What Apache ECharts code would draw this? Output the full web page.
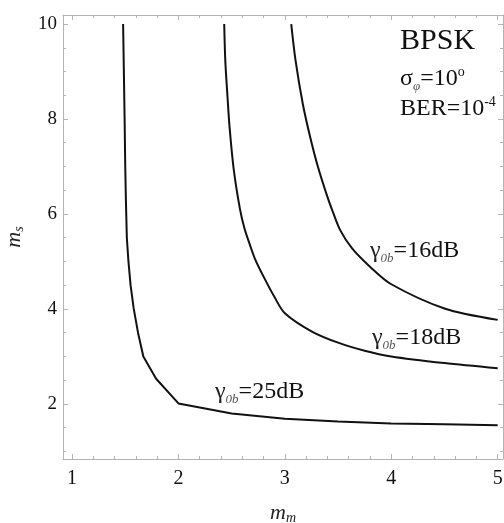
<!DOCTYPE html>
<html>
<head>
<meta charset="utf-8">
<script src="https://cdn.jsdelivr.net/npm/echarts@6/dist/echarts.min.js"></script>
<style>
html,body{margin:0;padding:0;background:#fff;}
#chart{width:504px;height:523px;}
</style>
</head>
<body>
<div id="chart"></div>
<script>
// ---- data (m_m on x, m_s on y) ----
const mm16 = [3.06, 3.10, 3.17, 3.24, 3.31, 3.40, 3.45, 3.52, 3.63, 3.80, 4.00, 4.50, 5.00];
const ms16 = [10.0, 9.24, 8.30, 7.60, 7.00, 6.36, 6.05, 5.66, 5.28, 4.89, 4.52, 4.01, 3.77];

const mm18 = [2.43, 2.44, 2.46, 2.48, 2.52, 2.58, 2.62, 2.67, 2.72, 2.80, 2.90, 3.00, 3.25, 3.50, 3.75, 4.00, 4.50, 5.00];
const ms18 = [10.0, 9.24, 8.5, 7.84, 6.93, 6.08, 5.70, 5.36, 5.05, 4.68, 4.26, 3.91, 3.53, 3.29, 3.12, 3.00, 2.86, 2.75];

const mm25 = [1.48, 1.487, 1.494, 1.50, 1.506, 1.515, 1.53, 1.55, 1.58, 1.62, 1.67, 1.79, 2.00, 2.50, 3.00, 3.50, 4.00, 4.50, 5.00];
const ms25 = [10.0, 9.0, 8.0, 7.0, 6.3, 5.5, 5.0, 4.5, 4.0, 3.5, 3.0, 2.53, 2.01, 1.80, 1.69, 1.63, 1.59, 1.57, 1.55];

const xMajor = [1, 2, 3, 4, 5];
const xMinor = [1.2, 1.4, 1.6, 1.8, 2.2, 2.4, 2.6, 2.8, 3.2, 3.4, 3.6, 3.8, 4.2, 4.4, 4.6, 4.8];
const yMajor = [2, 4, 6, 8, 10];
const yMinor = [1, 1.5, 2.5, 3, 3.5, 4.5, 5, 5.5, 6.5, 7, 7.5, 8.5, 9, 9.5];

const xMin = 0.915, xMax = 5.05, yMin = 0.84, yMax = 10.19;

// ---- chart ----
const serif = '"Liberation Serif", "DejaVu Serif", serif';
const frame = '#b4b4b4';
const pair = (xs, ys) => xs.map((x, i) => [x, ys[i]]);

function xAx(pos, major, labels) {
  return {
    type: 'value', position: pos, min: xMin, max: xMax,
    axisLine: { show: major, lineStyle: { color: frame, width: 1 } },
    axisTick: { show: true, inside: true, length: major ? 5 : 3,
      customValues: major ? xMajor : xMinor, lineStyle: { color: frame } },
    axisLabel: labels ? { show: true, customValues: xMajor, margin: 10,
      fontFamily: serif, fontSize: 20, color: '#111' } : { show: false },
    splitLine: { show: false }
  };
}
function yAx(pos, major, labels) {
  return {
    type: 'value', position: pos, min: yMin, max: yMax,
    axisLine: { show: major, lineStyle: { color: frame, width: 1 } },
    axisTick: { show: true, inside: true, length: major ? 5 : 3,
      customValues: major ? yMajor : yMinor, lineStyle: { color: frame } },
    axisLabel: labels ? { show: true, customValues: yMajor, margin: 6,
      fontFamily: serif, fontSize: 19, color: '#111' } : { show: false },
    splitLine: { show: false }
  };
}

const nameRich = {
  m: { fontFamily: serif, fontSize: 22, fontStyle: 'italic', color: '#222', lineHeight: 24 },
  s: { fontFamily: serif, fontSize: 14, fontStyle: 'italic', color: '#222', verticalAlign: 'bottom', lineHeight: 14 }
};

const xAxes = [xAx('bottom', true, true), xAx('bottom', false, false), xAx('top', true, false), xAx('top', false, false)];
xAxes[0].name = '{m|m}{s|m}';
xAxes[0].nameLocation = 'middle';
xAxes[0].nameGap = 42;
xAxes[0].nameTextStyle = { fontFamily: serif, rich: nameRich };

const yAxes = [yAx('left', true, true), yAx('left', false, false), yAx('right', true, false), yAx('right', false, false)];
yAxes[0].name = '{m|m}{s|s}';
yAxes[0].nameLocation = 'middle';
yAxes[0].nameGap = 37;
yAxes[0].nameRotate = 90;
yAxes[0].nameTextStyle = { fontFamily: serif, rich: nameRich };

function lineSeries(xs, ys, sm) {
  return { type: 'line', xAxisIndex: 0, yAxisIndex: 0, data: pair(xs, ys),
    showSymbol: false, symbol: 'none', smooth: sm, animation: false,
    lineStyle: { color: '#111', width: 2 } };
}

const gRich = {
  n: { fontFamily: serif, fontSize: 24, fill: '#111', lineHeight: 28 },
  g: { fontFamily: serif, fontSize: 24, fill: '#222', lineHeight: 28 },
  s: { fontFamily: serif, fontSize: 13, fontStyle: 'italic', fill: '#555', verticalAlign: 'bottom', lineHeight: 12 },
  sup: { fontFamily: serif, fontSize: 14, fill: '#111', verticalAlign: 'top', lineHeight: 14 },
  big: { fontFamily: serif, fontSize: 30, fill: '#111', lineHeight: 32 }
};
function txt(x, y, text) {
  return { type: 'text', x: x, y: y, z: 10, style: { text: text, rich: gRich } };
}

const chart = echarts.init(document.getElementById('chart'), null, { renderer: 'canvas' });
chart.setOption({
  animation: false,
  backgroundColor: '#fff',
  grid: { left: 63, top: 15, right: 1, bottom: 64, containLabel: false, outerBoundsMode: 'none' },
  xAxis: xAxes,
  yAxis: yAxes,
  series: [lineSeries(mm16, ms16, 0.3), lineSeries(mm18, ms18, 0.3), lineSeries(mm25, ms25, false)],
  graphic: [
    txt(400, 25, '{big|BPSK}'),
    txt(400, 65, '{n|σ}{s|φ}{n|=10}{sup|o}'),
    txt(400, 95, '{n|BER=10}{sup|-4}'),
    txt(370, 237, '{g|γ}{s|0b}{n|=16dB}'),
    txt(372, 324, '{g|γ}{s|0b}{n|=18dB}'),
    txt(215, 378, '{g|γ}{s|0b}{n|=25dB}')
  ]
});
</script>
</body>
</html>
